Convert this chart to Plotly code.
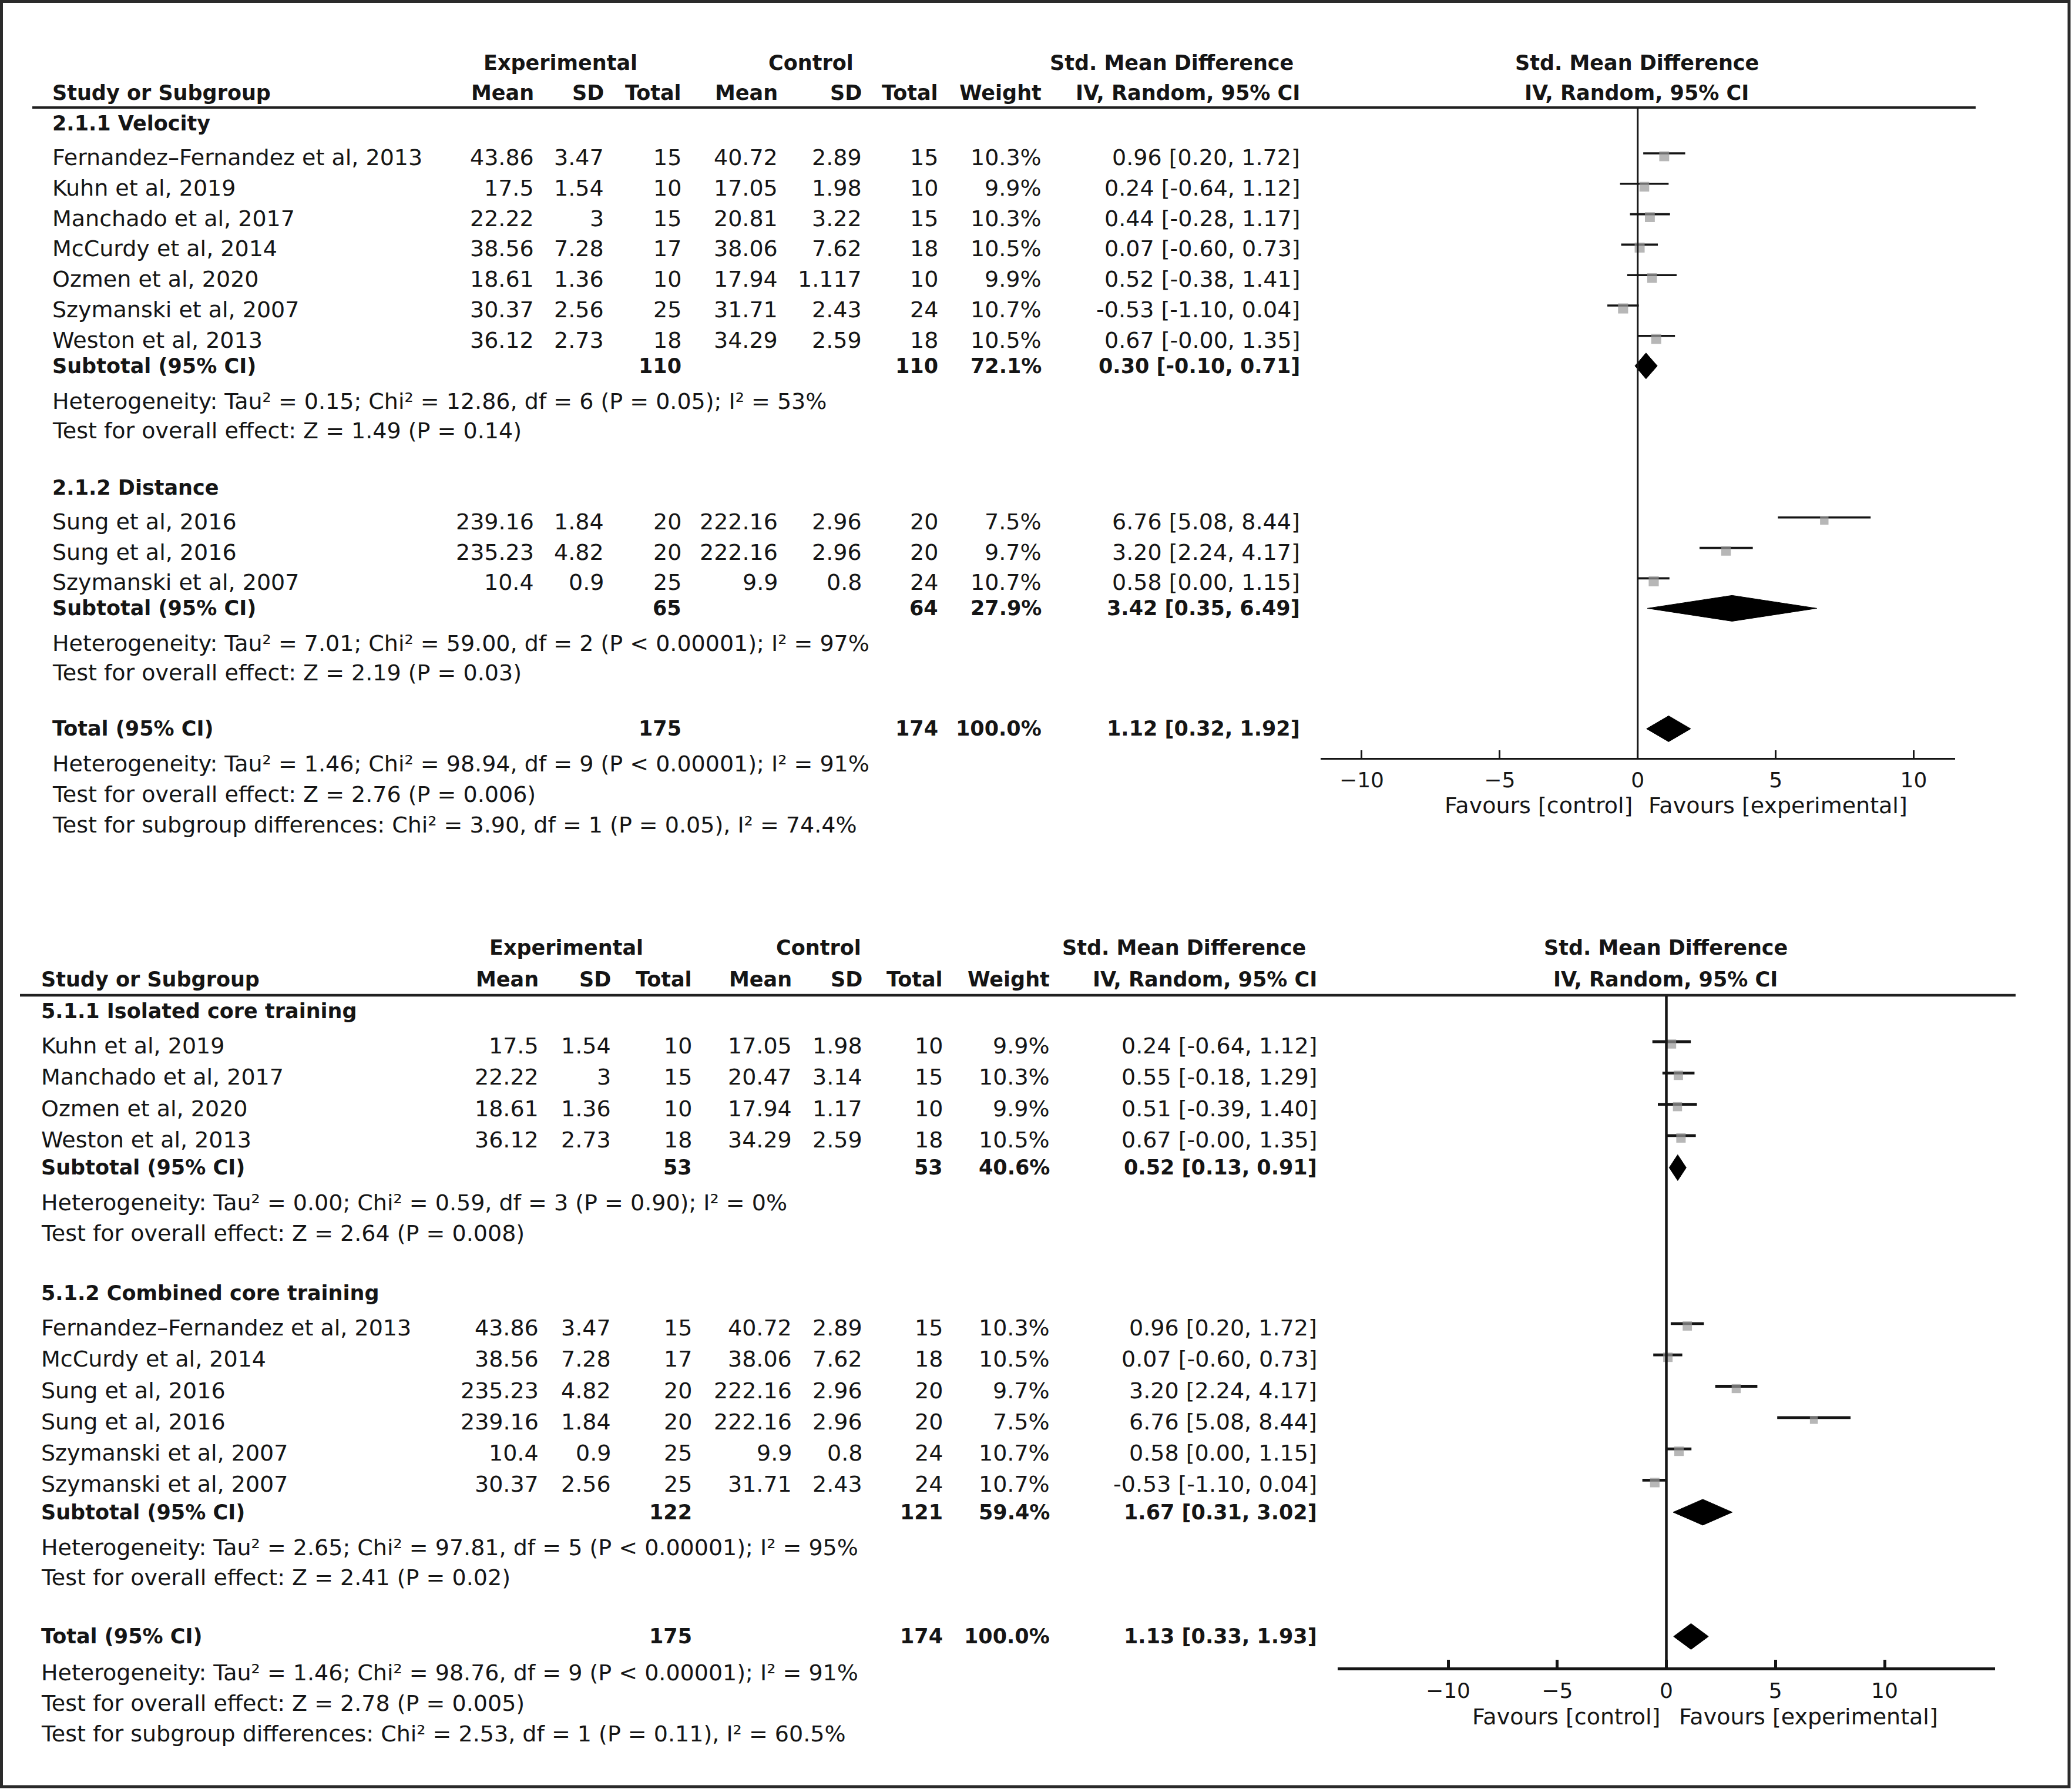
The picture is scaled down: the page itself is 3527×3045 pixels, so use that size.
import plotly.graph_objects as go

# ======================= DATA =======================
# ---- Panel A : 2.1 ----
a1_label = "2.1.1 Velocity"
a1_study = ["Fernandez–Fernandez et al, 2013", "Kuhn et al, 2019", "Manchado et al, 2017",
            "McCurdy et al, 2014", "Ozmen et al, 2020", "Szymanski et al, 2007", "Weston et al, 2013"]
a1_exp_mean = [43.86, 17.5, 22.22, 38.56, 18.61, 30.37, 36.12]
a1_exp_sd = [3.47, 1.54, 3, 7.28, 1.36, 2.56, 2.73]
a1_exp_n = [15, 10, 15, 17, 10, 25, 18]
a1_ctl_mean = [40.72, 17.05, 20.81, 38.06, 17.94, 31.71, 34.29]
a1_ctl_sd = [2.89, 1.98, 3.22, 7.62, 1.117, 2.43, 2.59]
a1_ctl_n = [15, 10, 15, 18, 10, 24, 18]
a1_weight = [10.3, 9.9, 10.3, 10.5, 9.9, 10.7, 10.5]
a1_smd = [0.96, 0.24, 0.44, 0.07, 0.52, -0.53, 0.67]
a1_lo = [0.20, -0.64, -0.28, -0.60, -0.38, -1.10, -0.0]
a1_hi = [1.72, 1.12, 1.17, 0.73, 1.41, 0.04, 1.35]
a1_sub = [110, 110, 72.1, 0.30, -0.10, 0.71]
a1_het = "Heterogeneity: Tau² = 0.15; Chi² = 12.86, df = 6 (P = 0.05); I² = 53%"
a1_z = "Test for overall effect: Z = 1.49 (P = 0.14)"

a2_label = "2.1.2 Distance"
a2_study = ["Sung et al, 2016", "Sung et al, 2016", "Szymanski et al, 2007"]
a2_exp_mean = [239.16, 235.23, 10.4]
a2_exp_sd = [1.84, 4.82, 0.9]
a2_exp_n = [20, 20, 25]
a2_ctl_mean = [222.16, 222.16, 9.9]
a2_ctl_sd = [2.96, 2.96, 0.8]
a2_ctl_n = [20, 20, 24]
a2_weight = [7.5, 9.7, 10.7]
a2_smd = [6.76, 3.20, 0.58]
a2_lo = [5.08, 2.24, 0.00]
a2_hi = [8.44, 4.17, 1.15]
a2_sub = [65, 64, 27.9, 3.42, 0.35, 6.49]
a2_het = "Heterogeneity: Tau² = 7.01; Chi² = 59.00, df = 2 (P &lt; 0.00001); I² = 97%"
a2_z = "Test for overall effect: Z = 2.19 (P = 0.03)"

a_tot = [175, 174, 100.0, 1.12, 0.32, 1.92]
a_tot_het = "Heterogeneity: Tau² = 1.46; Chi² = 98.94, df = 9 (P &lt; 0.00001); I² = 91%"
a_tot_z = "Test for overall effect: Z = 2.76 (P = 0.006)"
a_sgd = "Test for subgroup differences: Chi² = 3.90, df = 1 (P = 0.05), I² = 74.4%"

# ---- Panel B : 5.1 ----
b1_label = "5.1.1 Isolated core training"
b1_study = ["Kuhn et al, 2019", "Manchado et al, 2017", "Ozmen et al, 2020", "Weston et al, 2013"]
b1_exp_mean = [17.5, 22.22, 18.61, 36.12]
b1_exp_sd = [1.54, 3, 1.36, 2.73]
b1_exp_n = [10, 15, 10, 18]
b1_ctl_mean = [17.05, 20.47, 17.94, 34.29]
b1_ctl_sd = [1.98, 3.14, 1.17, 2.59]
b1_ctl_n = [10, 15, 10, 18]
b1_weight = [9.9, 10.3, 9.9, 10.5]
b1_smd = [0.24, 0.55, 0.51, 0.67]
b1_lo = [-0.64, -0.18, -0.39, -0.0]
b1_hi = [1.12, 1.29, 1.40, 1.35]
b1_sub = [53, 53, 40.6, 0.52, 0.13, 0.91]
b1_het = "Heterogeneity: Tau² = 0.00; Chi² = 0.59, df = 3 (P = 0.90); I² = 0%"
b1_z = "Test for overall effect: Z = 2.64 (P = 0.008)"

b2_label = "5.1.2 Combined core training"
b2_study = ["Fernandez–Fernandez et al, 2013", "McCurdy et al, 2014", "Sung et al, 2016",
            "Sung et al, 2016", "Szymanski et al, 2007", "Szymanski et al, 2007"]
b2_exp_mean = [43.86, 38.56, 235.23, 239.16, 10.4, 30.37]
b2_exp_sd = [3.47, 7.28, 4.82, 1.84, 0.9, 2.56]
b2_exp_n = [15, 17, 20, 20, 25, 25]
b2_ctl_mean = [40.72, 38.06, 222.16, 222.16, 9.9, 31.71]
b2_ctl_sd = [2.89, 7.62, 2.96, 2.96, 0.8, 2.43]
b2_ctl_n = [15, 18, 20, 20, 24, 24]
b2_weight = [10.3, 10.5, 9.7, 7.5, 10.7, 10.7]
b2_smd = [0.96, 0.07, 3.20, 6.76, 0.58, -0.53]
b2_lo = [0.20, -0.60, 2.24, 5.08, 0.00, -1.10]
b2_hi = [1.72, 0.73, 4.17, 8.44, 1.15, 0.04]
b2_sub = [122, 121, 59.4, 1.67, 0.31, 3.02]
b2_het = "Heterogeneity: Tau² = 2.65; Chi² = 97.81, df = 5 (P &lt; 0.00001); I² = 95%"
b2_z = "Test for overall effect: Z = 2.41 (P = 0.02)"

b_tot = [175, 174, 100.0, 1.13, 0.33, 1.93]
b_tot_het = "Heterogeneity: Tau² = 1.46; Chi² = 98.76, df = 9 (P &lt; 0.00001); I² = 91%"
b_tot_z = "Test for overall effect: Z = 2.78 (P = 0.005)"
b_sgd = "Test for subgroup differences: Chi² = 2.53, df = 1 (P = 0.11), I² = 60.5%"

axis_ticks = [-10, -5, 0, 5, 10]
fav_left = "Favours [control]"
fav_right = "Favours [experimental]"

# ======================= STYLE / LAYOUT =======================
W, H = 3527, 3045
FONT = "DejaVu Sans"
FS = 38
FSB = 35
INK = "#151515"
SQ = "#999999"

annotations = []
shapes = []
traces = []


def num(v):
    return "{:g}".format(v)


def ci(e, l, h):
    return f"{e:.2f} [{l:.2f}, {h:.2f}]"


def ann(x, y, text, anchor="left", bold=False, size=None, xref="paper", xshift=0):
    annotations.append(dict(
        x=(x / W) if xref == "paper" else x, xref=xref, y=y, yref="y",
        text=f"<b>{text}</b>" if bold else text, xanchor=anchor, yanchor="middle",
        showarrow=False, xshift=xshift, borderpad=0,
        font=dict(family=FONT, size=size or (FSB if bold else FS), color=INK)))


def hline(x0, x1, y, w, color=INK):
    shapes.append(dict(type="line", xref="paper", yref="y", x0=x0 / W, x1=x1 / W,
                       y0=y, y1=y, line=dict(color=color, width=w)))


def draw_panel(C, V, groups, total, xa):
    # headers
    ann(C["exp_c"], C["h1"], "Experimental", "center", True)
    ann(C["ctl_c"], C["h1"], "Control", "center", True)
    ann(C["smd_c"], C["h1"], "Std. Mean Difference", "center", True)
    ann(C["plot_c"], C["h1"], "Std. Mean Difference", "center", True)
    ann(C["name"], C["h2"], "Study or Subgroup", "left", True)
    for key, txt in [("em", "Mean"), ("es", "SD"), ("en", "Total"), ("cm", "Mean"),
                     ("cs", "SD"), ("cn", "Total"), ("w", "Weight"), ("ci", "IV, Random, 95% CI")]:
        ann(C[key], C["h2"], txt, "right", True)
    ann(C["plot_c"], C["h2"], "IV, Random, 95% CI", "center", True)
    hline(C["hl0"], C["hl1"], C["hl"], C["hlw"], "#202020")

    lx, ly, sx, sy, ss = [], [], [], [], []
    diamonds = []
    y = C["g0"]
    for gi, g in enumerate(groups):
        if gi > 0:
            y += V["test_to_label"]
        ann(C["name"], y, g["label"], "left", True)
        y += V["label_to_first"]
        for i in range(len(g["study"])):
            if i > 0:
                y += V["step"]
            ann(C["name"], y, g["study"][i])
            ann(C["em"], y, num(g["em"][i]), "right")
            ann(C["es"], y, num(g["es"][i]), "right")
            ann(C["en"], y, num(g["en"][i]), "right")
            ann(C["cm"], y, num(g["cm"][i]), "right")
            ann(C["cs"], y, num(g["cs"][i]), "right")
            ann(C["cn"], y, num(g["cn"][i]), "right")
            ann(C["w"], y, f"{g['w'][i]:.1f}%", "right")
            ann(C["ci"], y, ci(g["smd"][i], g["lo"][i], g["hi"][i]), "right")
            lx += [g["lo"][i], g["hi"][i], None]
            ly += [y + V["line_off"], y + V["line_off"], None]
            sx.append(g["smd"][i])
            sy.append(y + V["sq_off"])
            ss.append(C["sq"] * (g["w"][i] / 10.5) ** 0.5)
        y += V["last_to_sub"]
        s = g["sub"]
        ann(C["name"], y, "Subtotal (95% CI)", "left", True)
        ann(C["en"], y, num(s[0]), "right", True)
        ann(C["cn"], y, num(s[1]), "right", True)
        ann(C["w"], y, f"{s[2]:.1f}%", "right", True)
        ann(C["ci"], y, ci(s[3], s[4], s[5]), "right", True)
        diamonds.append((s[3], s[4], s[5], y))
        y += V["sub_to_het"]
        ann(C["name"], y, g["het"])
        y += V["het_to_test"]
        ann(C["name"], y, g["z"])
    # total
    y += V["test_to_total"]
    t = total["tot"]
    ann(C["name"], y, "Total (95% CI)", "left", True)
    ann(C["en"], y, num(t[0]), "right", True)
    ann(C["cn"], y, num(t[1]), "right", True)
    ann(C["w"], y, f"{t[2]:.1f}%", "right", True)
    ann(C["ci"], y, ci(t[3], t[4], t[5]), "right", True)
    diamonds.append((t[3], t[4], t[5], y))
    y += V["tot_to_het"]
    ann(C["name"], y, total["het"])
    y += V["line"]
    ann(C["name"], y, total["z"])
    y += V["line"]
    ann(C["name"], y, total["sgd"])

    # zero line
    shapes.append(dict(type="line", xref=xa, yref="y", x0=0, x1=0, y0=C["hl"] + 1, y1=C["axis_y"],
                       line=dict(color=INK, width=C["zw"])))
    # CI lines
    traces.append(go.Scatter(x=lx, y=ly, mode="lines", xaxis=xa, yaxis="y",
                             line=dict(color=INK, width=C["ciw"]), hoverinfo="skip", cliponaxis=False))
    # squares
    traces.append(go.Scatter(x=sx, y=sy, mode="markers", xaxis=xa, yaxis="y",
                             marker=dict(symbol="square", size=ss, color=SQ, line=dict(width=0)),
                             cliponaxis=False))
    # diamonds
    for e, l, h, yy in diamonds:
        hh = C["dh"]
        traces.append(go.Scatter(x=[l, e, h, e, l], y=[yy, yy - hh, yy, yy + hh, yy],
                                 mode="lines", fill="toself", fillcolor="black", xaxis=xa, yaxis="y",
                                 line=dict(color="black", width=1), hoverinfo="skip", cliponaxis=False))
    # favours labels
    ann(0, C["fav_y"], fav_left, "right", xref=xa, xshift=C["fav_l"])
    ann(0, C["fav_y"], fav_right, "left", xref=xa, xshift=C["fav_r"])


CA = dict(name=88, em=910, es=1029, en=1161, cm=1325, cs=1468, cn=1598, w=1774, ci=2214,
          exp_c=954, ctl_c=1380, smd_c=1994, plot_c=2786, h1=107, h2=158, hl=183, hl0=55, hl1=3363, hlw=4,
          g0=210, axis_y=1291, zw=3, ciw=3.6, sq=17, dh=22, fav_y=1371, fav_l=-8, fav_r=17)
VA = dict(label_to_first=58, step=51.8, last_to_sub=44, sub_to_het=60, het_to_test=50,
          test_to_label=97, test_to_total=95, tot_to_het=60, line=52, line_off=-7, sq_off=-2)

CB = dict(name=69, em=918, es=1041, en=1179, cm=1349, cs=1469, cn=1606, w=1788, ci=2243,
          exp_c=964, ctl_c=1393, smd_c=2015, plot_c=2835, h1=1613, h2=1667, hl=1694, hl0=34, hl1=3431, hlw=4.5,
          g0=1721, axis_y=2840, zw=4.5, ciw=4.8, sq=16, dh=22, fav_y=2922, fav_l=-10, fav_r=20)
VB = dict(label_to_first=59, step=53.3, last_to_sub=47.5, sub_to_het=60, het_to_test=51.5,
          test_to_label=102, test_to_total=100, tot_to_het=62, line=52, line_off=-7, sq_off=-3)

groups_a = [
    dict(label=a1_label, study=a1_study, em=a1_exp_mean, es=a1_exp_sd, en=a1_exp_n, cm=a1_ctl_mean,
         cs=a1_ctl_sd, cn=a1_ctl_n, w=a1_weight, smd=a1_smd, lo=a1_lo, hi=a1_hi, sub=a1_sub, het=a1_het, z=a1_z),
    dict(label=a2_label, study=a2_study, em=a2_exp_mean, es=a2_exp_sd, en=a2_exp_n, cm=a2_ctl_mean,
         cs=a2_ctl_sd, cn=a2_ctl_n, w=a2_weight, smd=a2_smd, lo=a2_lo, hi=a2_hi, sub=a2_sub, het=a2_het, z=a2_z),
]
groups_b = [
    dict(label=b1_label, study=b1_study, em=b1_exp_mean, es=b1_exp_sd, en=b1_exp_n, cm=b1_ctl_mean,
         cs=b1_ctl_sd, cn=b1_ctl_n, w=b1_weight, smd=b1_smd, lo=b1_lo, hi=b1_hi, sub=b1_sub, het=b1_het, z=b1_z),
    dict(label=b2_label, study=b2_study, em=b2_exp_mean, es=b2_exp_sd, en=b2_exp_n, cm=b2_ctl_mean,
         cs=b2_ctl_sd, cn=b2_ctl_n, w=b2_weight, smd=b2_smd, lo=b2_lo, hi=b2_hi, sub=b2_sub, het=b2_het, z=b2_z),
]

draw_panel(CA, VA, groups_a, dict(tot=a_tot, het=a_tot_het, z=a_tot_z, sgd=a_sgd), "x")
draw_panel(CB, VB, groups_b, dict(tot=b_tot, het=b_tot_het, z=b_tot_z, sgd=b_sgd), "x2")

# outer frame
shapes.append(dict(type="rect", xref="paper", yref="paper", x0=2.5 / W, x1=(W - 5) / W,
                   y0=1 - (H - 4) / H, y1=1 - 2.5 / H, line=dict(color="#2a2a2a", width=5)))


def xaxis(dom, rng, ypos, lw, tickfs):
    return dict(domain=[dom[0] / W, dom[1] / W], range=rng, anchor="free", position=1 - ypos / H,
                showline=True, linewidth=lw, linecolor=INK, ticks="inside", ticklen=13, tickwidth=lw,
                tickcolor=INK, tickvals=axis_ticks, showgrid=False, zeroline=False, fixedrange=True,
                tickfont=dict(family=FONT, size=tickfs, color=INK), ticklabelstandoff=4)


fig = go.Figure(traces)
fig.update_layout(
    width=W, height=H, margin=dict(l=0, r=0, t=0, b=0), autosize=False,
    paper_bgcolor="white", plot_bgcolor="rgba(0,0,0,0)", showlegend=False,
    xaxis=xaxis((2247.5, 3328), [-11.5, 11.5], 1291, 3, 36),
    xaxis2=xaxis((2277.4, 3395.6), [-15.05, 15.05], 2840, 4.5, 36),
    yaxis=dict(domain=[0, 1], range=[H, 0], visible=False, fixedrange=True, anchor="x"),
    annotations=annotations, shapes=shapes,
)
fig.write_html("out.html", config={"displayModeBar": False},
               post_script="document.body.style.margin='0';document.body.style.padding='0';"
                           "document.body.style.overflow='hidden';")
